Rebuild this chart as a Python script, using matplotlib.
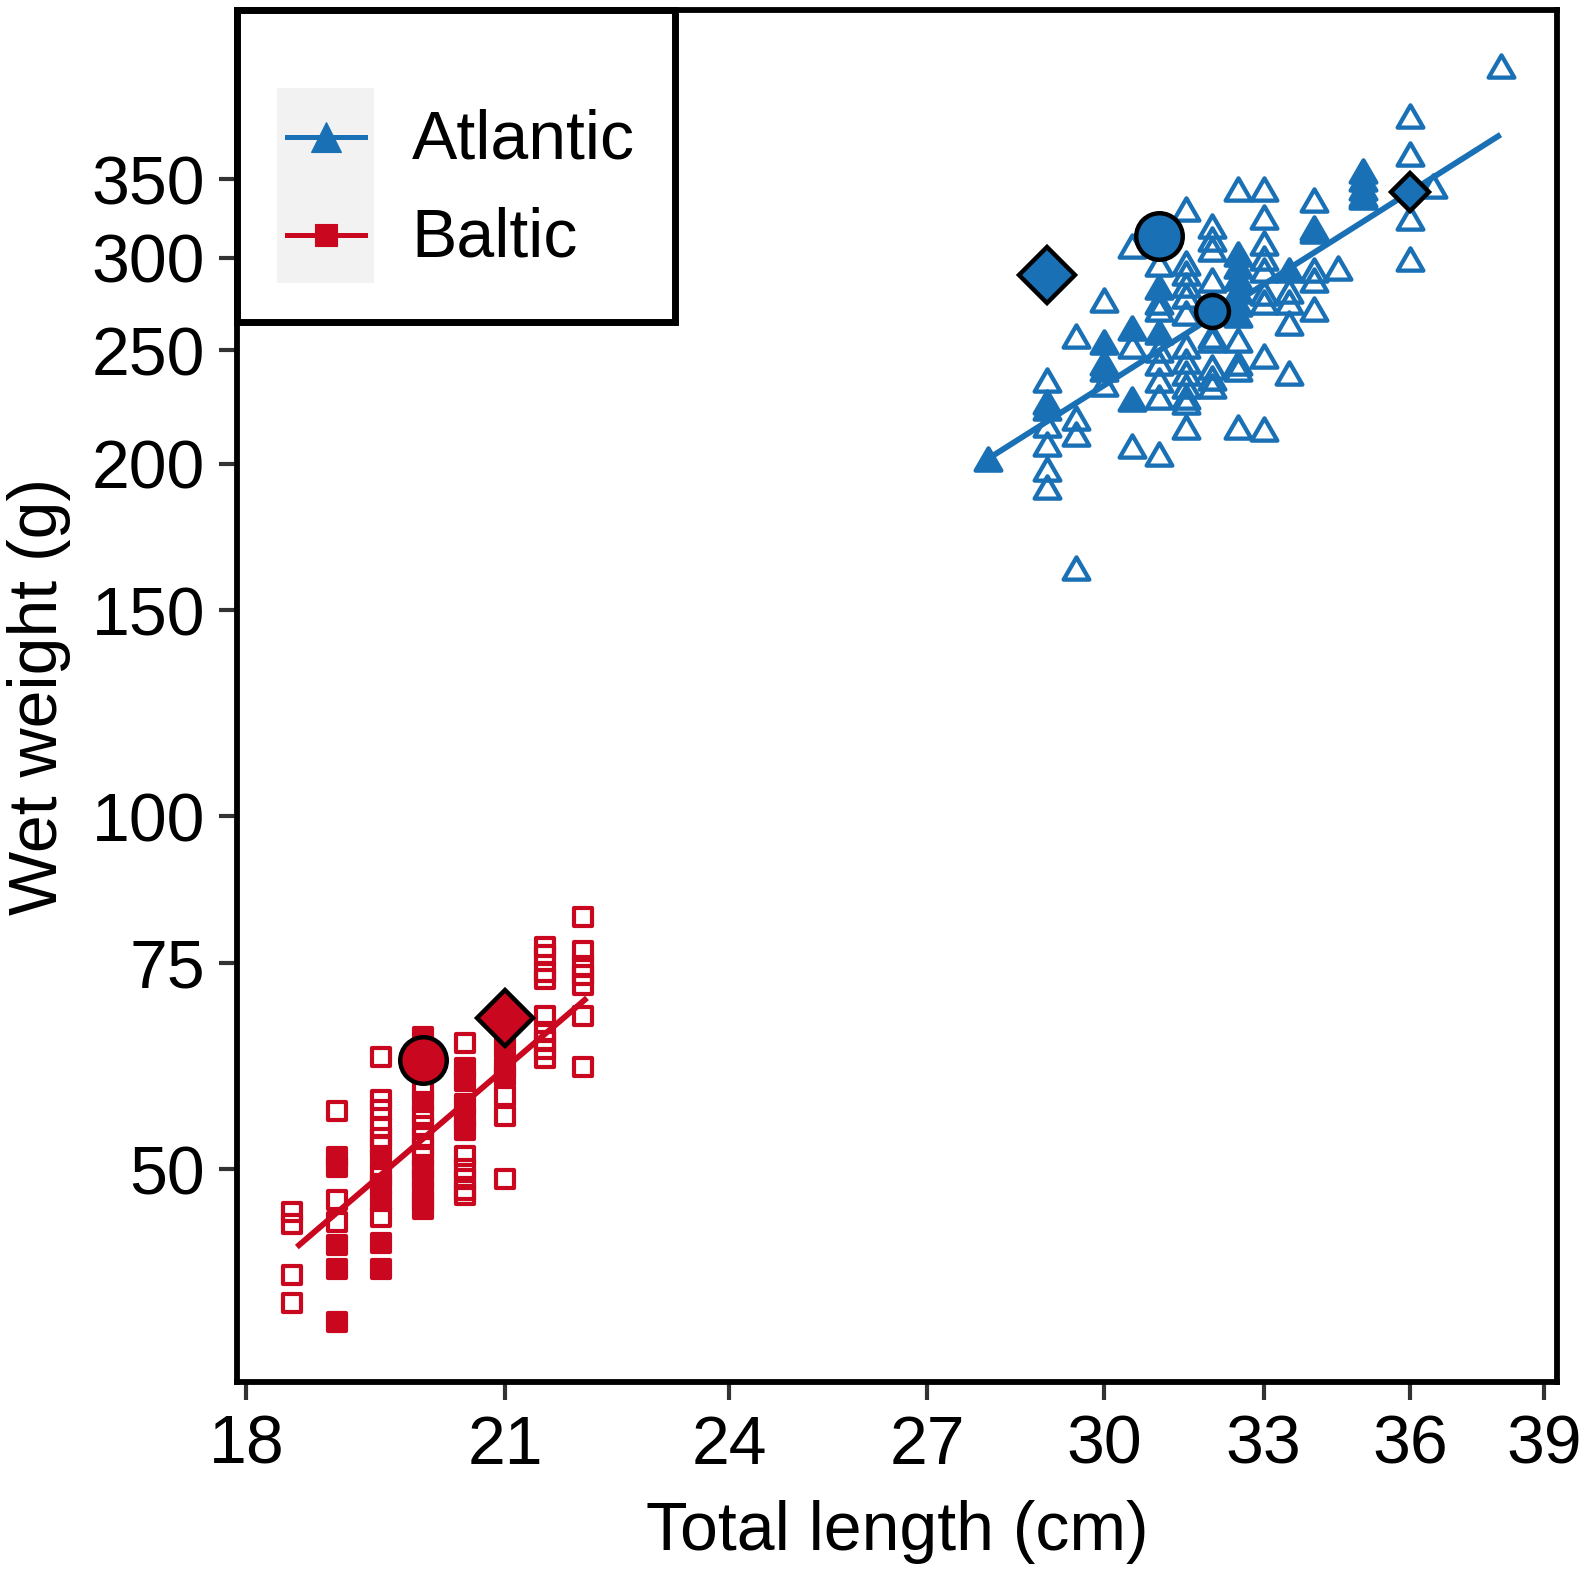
"""
Length-weight plot, Atlantic vs Baltic (log-log axes).
"""
import numpy as np
import matplotlib
matplotlib.use("Agg")
import matplotlib.pyplot as plt
from matplotlib.path import Path
from matplotlib.markers import MarkerStyle
from matplotlib.patches import Rectangle
from matplotlib.lines import Line2D
from matplotlib.legend_handler import HandlerBase

plt.rcParams['font.family'] = ['Liberation Sans', 'DejaVu Sans']

BLUE = "#1A70B5"
RED = "#C9071F"

# ---- data (length cm, wet weight g) ----
# Atlantic, open triangles
atl_open = {
    29.0: [236, 216, 208, 198, 191],
    29.5: [257, 219, 212, 163],
    30.0: [276, 244, 234],
    30.5: [307, 252, 207],
    31.0: [296, 275, 271, 250, 244, 236, 228, 204],
    31.5: [330, 297, 291, 284, 278, 269, 252, 245, 239, 233, 228, 226, 215],
    32.0: [319, 311, 305, 287, 257, 255, 242, 237, 233],
    32.5: [343, 255, 244, 241, 215],
    33.0: [343, 325, 309, 300, 293, 280, 275, 247, 214],
    33.5: [281, 275, 264, 239],
    34.0: [336, 316, 293, 287, 271],
    34.5: [294],
    35.0: [338],
    36.0: [396, 368, 324, 299],
    36.5: [345],
    38.0: [437],
}
# Atlantic, filled triangles
atl_filled = {
    28.0: [202],
    29.0: [223, 226],
    30.0: [254, 241],
    30.5: [261, 227],
    31.0: [283, 259],
    32.5: [302, 295, 288, 281, 274, 268],
    33.5: [293],
    34.0: [318],
    35.0: [356, 350, 344, 339],
}
# Baltic, open squares
bal_open = {
    18.5: [46.0, 44.9, 40.6, 38.4],
    19.0: [56.0, 47.1, 45.1],
    19.5: [62.3, 57.3, 56.2, 54.3, 53.2, 52.3, 49.3, 45.5],
    20.0: [58.4, 55.6, 54.4, 53.3, 52.2, 51.2],
    20.5: [64.1, 51.3, 50.0, 49.0, 48.0, 47.5],
    21.0: [57.7, 55.5, 49.0],
    21.5: [77.3, 76.2, 73.6, 72.6, 67.5, 65.5, 64.3, 63.3, 62.2],
    22.0: [82.0, 76.7, 74.6, 73.2, 71.8, 67.5, 61.1],
}
# Baltic, filled squares
bal_filled = {
    19.0: [51.2, 50.2, 43.1, 41.1, 37.0],
    19.5: [51.0, 48.6, 47.0, 43.2, 41.1],
    20.0: [64.8, 57.0, 50.0, 49.0, 48.0, 47.0, 46.2],
    20.5: [61.0, 59.5, 56.8, 55.3, 54.0],
    21.0: [63.5, 61.0, 60.0],
}

# fitted lines (end points)
atl_fit_len = [28.0, 38.0]
atl_fit_wt = [202.0, 382.0]
bal_fit_len = [18.55, 22.05]
bal_fit_wt = [42.9, 70.0]

# reference markers: big circle / big diamond / small circle / small diamond
atl_big_circle = (31.0, 313.0)
atl_big_diamond = (29.0, 290.0)
atl_small_circle = (32.0, 270.0)
atl_small_diamond = (36.0, 341.0)
bal_big_circle = (20.0, 61.9)
bal_big_diamond = (21.0, 67.3)

x_ticks = [18, 21, 24, 27, 30, 33, 36, 39]
y_ticks = [50, 75, 100, 150, 200, 250, 300, 350]


def flatten(d):
    xs, ys = [], []
    for k, vals in d.items():
        xs += [k] * len(vals)
        ys += vals
    return np.array(xs), np.array(ys)


tri_path = Path([(0, 0.866), (-1, -0.866), (1, -0.866), (0, 0.866)], closed=True)
TRI = MarkerStyle(tri_path, joinstyle='round')
SQ = MarkerStyle('s', joinstyle='round')


class KeyHandler(HandlerBase):
    """ggplot-like legend key: grey square, line across, marker in middle."""
    def __init__(self, color, marker, ms):
        super().__init__()
        self.color, self.marker, self.ms = color, marker, ms

    def create_artists(self, legend, orig_handle, xdescent, ydescent,
                       width, height, fontsize, trans):
        x0, y0 = -xdescent, -ydescent
        yc = y0 + height / 2
        bg = Rectangle((x0, y0), width, height, facecolor="#F2F2F2",
                       edgecolor="none", transform=trans)
        ln = Line2D([x0 + 0.1 * width, x0 + 0.9 * width], [yc, yc],
                    color=self.color, lw=3.6, transform=trans)
        mk = Line2D([x0 + width / 2], [yc], marker=self.marker, ms=self.ms,
                    color=self.color, mec=self.color, mew=0.8,
                    linestyle="none", transform=trans)
        return [bg, ln, mk]


def main():
    fig = plt.figure(figsize=(15.83, 15.73), dpi=100)
    ax = fig.add_axes([0.1497, 0.1214, 0.8339, 0.8722])

    x, y = flatten(atl_open)
    ax.plot(x, y, linestyle='none', marker=TRI, ms=18.5, mfc='none',
            mec=BLUE, mew=3.1, zorder=2)
    x, y = flatten(atl_filled)
    ax.plot(x, y, linestyle='none', marker=TRI, ms=18.5, mfc=BLUE,
            mec=BLUE, mew=3.1, zorder=2)
    x, y = flatten(bal_open)
    ax.plot(x, y, linestyle='none', marker=SQ, ms=13.2, mfc='none',
            mec=RED, mew=3.0, zorder=2)
    x, y = flatten(bal_filled)
    ax.plot(x, y, linestyle='none', marker=SQ, ms=13.2, mfc=RED,
            mec=RED, mew=3.0, zorder=2)

    ax.plot(atl_fit_len, atl_fit_wt, color=BLUE, lw=4.2, zorder=3,
            solid_capstyle='butt')
    ax.plot(bal_fit_len, bal_fit_wt, color=RED, lw=4.2, zorder=3,
            solid_capstyle='butt')

    big = dict(linestyle='none', mec='black', mew=3.2, zorder=4)
    ax.plot(*atl_big_circle, marker='o', ms=33.5, mfc=BLUE, **big)
    ax.plot(*atl_big_diamond, marker='D', ms=28.5, mfc=BLUE, **big)
    ax.plot(*atl_small_circle, marker='o', ms=23.7, mfc=BLUE, **big)
    ax.plot(*atl_small_diamond, marker='D', ms=19.5, mfc=BLUE, **big)
    ax.plot(*bal_big_circle, marker='o', ms=33.5, mfc=RED, **big)
    ax.plot(*bal_big_diamond, marker='D', ms=28.5, mfc=RED, **big)

    ax.set_xscale('log')
    ax.set_yscale('log')
    ax.set_xlim(17.9, 39.3)
    ax.set_ylim(32.9, 488)
    ax.set_xticks(x_ticks, labels=[str(t) for t in x_ticks])
    ax.set_yticks(y_ticks, labels=[str(t) for t in y_ticks])
    ax.minorticks_off()
    ax.tick_params(axis='both', length=13, width=3, color='#333333',
                   labelsize=49, pad=10)

    for s in ax.spines.values():
        s.set_linewidth(4.2)
        s.set_color('black')

    ax.set_xlabel("Total length (cm)", fontsize=49, labelpad=16)
    ax.set_ylabel("Wet weight (g)", fontsize=49, labelpad=15)

    # legend box
    ax.add_patch(Rectangle((0, 0.7726), 0.332, 0.2274, transform=ax.transAxes,
                           facecolor='white', edgecolor='black', lw=5,
                           zorder=4.5, clip_on=False))
    h_atl = Line2D([], [], color=BLUE)
    h_bal = Line2D([], [], color=RED)
    ax.legend([h_atl, h_bal], ["Atlantic", "Baltic"],
              handler_map={h_atl: KeyHandler(BLUE, '^', 21),
                           h_bal: KeyHandler(RED, 's', 15.5)},
              loc='upper left', bbox_to_anchor=(0.0303, 0.9431),
              frameon=False, fontsize=49, borderpad=0, borderaxespad=0,
              handlelength=1.43, handleheight=1.83, labelspacing=0,
              handletextpad=0.55)

    fig.savefig("out.png", dpi=100)


if __name__ == "__main__":
    main()
